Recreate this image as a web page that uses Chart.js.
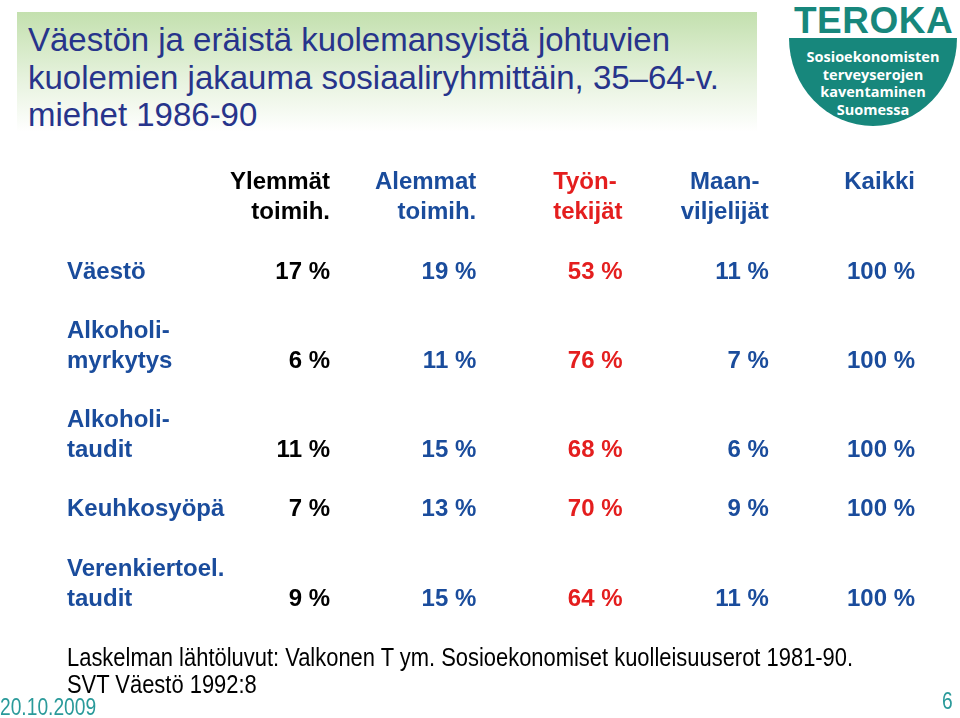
<!DOCTYPE html>
<html>
<head>
<meta charset="utf-8">
<script src="https://cdn.jsdelivr.net/npm/chart.js@4/dist/chart.umd.min.js"></script>
<style>
  body { margin: 0; width: 960px; height: 718px; position: relative; overflow: hidden; background: #fff;
         font-family: "Liberation Sans", Arial, sans-serif; }
  #table { position: absolute; left: 0; top: 0; }
  .titlebox { position: absolute; left: 17px; top: 12px; width: 740px; height: 120px;
              background: linear-gradient(#c3e0ae, #e6f2dd 55%, #ffffff); }
  .title { position: absolute; left: 28px; top: 21px; font-size: 33px; line-height: 37.5px; color: #27348b; }
  .logo-word { position: absolute; left: 794px; top: 0px; font-size: 37px; font-weight: bold; color: #17877c;
               letter-spacing: 0.5px; }
  .logo-bowl { position: absolute; left: 789px; top: 38px; width: 168px; height: 88px; background: #17877c;
               border-radius: 0 0 84px 84px / 0 0 88px 88px; }
  .logo-text { position: absolute; left: 789px; top: 48px; width: 168px; text-align: center; color: #fff;
               font-family: "Open Sans", "Liberation Sans", sans-serif; font-weight: bold; font-size: 14.5px; line-height: 17.5px; }
  .narrow { position: absolute; white-space: nowrap; transform-origin: 0 0; }
  .source { left: 67px; top: 644px; font-size: 25px; line-height: 27px; color: #000; transform: scaleX(0.877); }
  .date { left: 0; top: 694px; font-size: 23px; color: #2a9a9a; transform: scaleX(0.835); }
  .page { left: 942px; top: 688px; font-size: 23px; color: #2a9a9a; transform: scaleX(0.835); }
</style>
</head>
<body>
<div class="titlebox"></div>
<div class="title">Väestön ja eräistä kuolemansyistä johtuvien<br>kuolemien jakauma sosiaaliryhmittäin, 35–64-v.<br>miehet 1986-90</div>
<div class="logo-word">TEROKA</div>
<div class="logo-bowl"></div>
<div class="logo-text">Sosioekonomisten<br>terveyserojen<br>kaventaminen<br>Suomessa</div>
<canvas id="table" width="960" height="718"></canvas>
<div class="narrow source">Laskelman lähtöluvut: Valkonen T ym. Sosioekonomiset kuolleisuuserot 1981-90.<br>SVT Väestö 1992:8</div>
<div class="narrow date">20.10.2009</div>
<div class="narrow page">6</div>
<script>
// rows (causes of death) and their printed label lines
const rowLabels = [
  ['Väestö'],
  ['Alkoholi-', 'myrkytys'],
  ['Alkoholi-', 'taudit'],
  ['Keuhkosyöpä'],
  ['Verenkiertoel.', 'taudit']
];

// social groups
const columns = ['Ylemmät toimih.', 'Alemmat toimih.', 'Työntekijät', 'Maanviljelijät', 'Kaikki'];
const headers = [['Ylemmät', 'toimih.'], ['Alemmat', 'toimih.'], ['Työn-', 'tekijät'], ['Maan-', 'viljelijät'], ['Kaikki']];

// shares in % per group, one value per row
const ylemmat = [17, 6, 11, 7, 9];
const alemmat = [19, 11, 15, 13, 15];
const tyontekijat = [53, 76, 68, 70, 64];
const maanviljelijat = [11, 7, 6, 9, 11];
const kaikki = [100, 100, 100, 100, 100];

const series = [ylemmat, alemmat, tyontekijat, maanviljelijat, kaikki];
const BLUE = '#1a4c9c';
const colColors = ['#000000', BLUE, '#e41e1e', BLUE, BLUE];
const headerAlign = ['right', 'right', 'left', 'center', 'right'];
const FONT = '"Liberation Sans", Arial, sans-serif';

// text lines of the row labels, one empty line between rows
const lines = [];
const rowLine = [];
rowLabels.forEach((lbl, r) => {
  if (r > 0) lines.push('');
  lbl.forEach(l => lines.push(l));
  rowLine.push(lines.length - 1);
});

const cellText = {
  id: 'cellText',
  afterDatasetsDraw(chart) {
    const { ctx, scales: { x, y } } = chart;
    ctx.save();
    ctx.font = 'bold 24px ' + FONT;
    ctx.textBaseline = 'middle';
    chart.data.datasets.forEach((ds, c) => {
      ctx.fillStyle = ds.backgroundColor;
      ctx.textAlign = 'right';
      chart.getDatasetMeta(c).data.forEach((pt, r) => {
        ctx.fillText(ds.data[r].v + ' %', pt.x, pt.y);
      });
      // column header, two lines above the first row
      const px = x.getPixelForValue(c);
      const hl = headers[c];
      const w = Math.max(...hl.map(t => ctx.measureText(t).width));
      hl.forEach((t, i) => {
        const py = y.getPixelForValue(i - 3);
        if (headerAlign[c] === 'right') { ctx.textAlign = 'right'; ctx.fillText(t, px, py); }
        else if (headerAlign[c] === 'left') { ctx.textAlign = 'left'; ctx.fillText(t, px - w, py); }
        else { ctx.textAlign = 'center'; ctx.fillText(t, px - w / 2, py); }
      });
    });
    ctx.restore();
  }
};

new Chart(document.getElementById('table').getContext('2d'), {
  type: 'scatter',
  data: {
    datasets: series.map((vals, c) => ({
      label: columns[c],
      data: vals.map((v, r) => ({ x: columns[c], y: rowLine[r], v: v })),
      backgroundColor: colColors[c],
      borderColor: colColors[c],
      pointRadius: 0,
      pointHoverRadius: 0
    }))
  },
  options: {
    responsive: false,
    animation: false,
    events: [],
    layout: { padding: { left: 67, right: 45, top: 272, bottom: 119 } },
    plugins: { legend: { display: false }, tooltip: { enabled: false } },
    scales: {
      x: { type: 'category', labels: columns, offset: false, display: false },
      y: {
        type: 'linear',
        reverse: true,
        min: 0,
        max: lines.length - 1,
        grid: { display: false },
        border: { display: false },
        afterFit(scale) { scale.width = 263; },
        ticks: {
          stepSize: 1,
          maxTicksLimit: 20,
          autoSkip: false,
          crossAlign: 'far',
          padding: 0,
          color: BLUE,
          font: { family: FONT, size: 24, weight: 'bold' },
          callback: v => lines[v]
        }
      }
    }
  },
  plugins: [cellText]
});
</script>
</body>
</html>
